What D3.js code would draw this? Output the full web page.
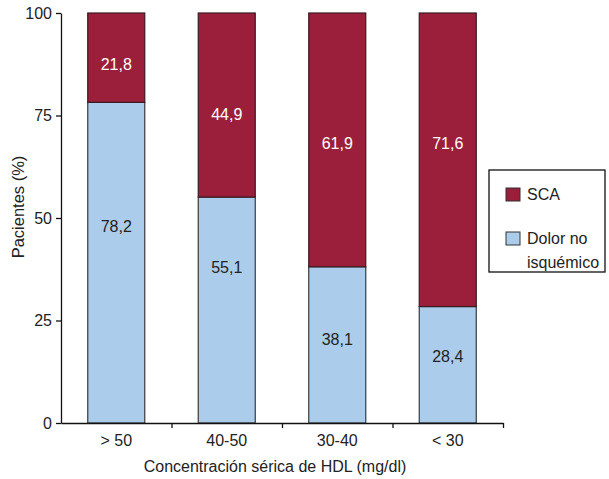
<!DOCTYPE html>
<html>
<head>
<meta charset="utf-8">
<script src="https://cdn.jsdelivr.net/npm/d3@7/dist/d3.min.js"></script>
<style>
  html, body { margin: 0; padding: 0; background: #fff; }
  svg { display: block; font-family: "Liberation Sans", Arial, sans-serif; }
</style>
</head>
<body>
<svg id="chart" width="609" height="479"></svg>
<script>
// HDL ranges and the share of patients in each outcome group (%)
const categories = ["> 50", "40-50", "30-40", "< 30"];
const dolorNoIsquemico = [78.2, 55.1, 38.1, 28.4];
const sca = [21.8, 44.9, 61.9, 71.6];
const yTicks = [0, 25, 50, 75, 100];
// Heights (in % units) at which each value label sits inside its segment
const dolorLabelAt = [48, 38, 20.5, 16.3];
const scaLabelAt = [87.6, 75.4, 68.3, 68.3];

const colors = { sca: "#9b1f3a", dolor: "#abcdeb", stroke: "#3a3a3a" };
const FS = 16;

const svg = d3.select("#chart");
const margin = { left: 61, top: 13, right: 106, bottom: 56 };
const width = 503 - margin.left;
const height = 423 - margin.top;

const g = svg.append("g").attr("transform", `translate(${margin.left},${margin.top})`);

const x = d3.scaleBand().domain(categories).range([0, width])
  .paddingInner(0.484).paddingOuter(0.242);
const y = d3.scaleLinear().domain([0, 100]).range([height, 0]);

// Stacked segments: blue at the bottom, red on top
const rows = categories.map((c, i) => ({ cat: c, dolor: dolorNoIsquemico[i], sca: sca[i] }));

g.selectAll("rect.dolor").data(rows).join("rect")
  .attr("class", "dolor")
  .attr("x", d => x(d.cat))
  .attr("width", x.bandwidth())
  .attr("y", d => y(d.dolor))
  .attr("height", d => y(0) - y(d.dolor))
  .attr("fill", colors.dolor)
  .attr("stroke", colors.stroke)
  .attr("stroke-width", 1.2);

g.selectAll("rect.sca").data(rows).join("rect")
  .attr("class", "sca")
  .attr("x", d => x(d.cat))
  .attr("width", x.bandwidth())
  .attr("y", d => y(d.dolor + d.sca))
  .attr("height", d => y(d.dolor) - y(d.dolor + d.sca))
  .attr("fill", colors.sca)
  .attr("stroke", "#3b1a22")
  .attr("stroke-width", 1.2);

const fmt = v => d3.format(".1f")(v).replace(".", ",");

g.selectAll("text.lblDolor").data(rows).join("text")
  .attr("class", "lblDolor")
  .attr("x", d => x(d.cat) + x.bandwidth() / 2)
  .attr("y", (d, i) => y(dolorLabelAt[i]))
  .attr("dy", "0.36em")
  .attr("text-anchor", "middle")
  .attr("font-size", FS)
  .attr("fill", "#222")
  .text(d => fmt(d.dolor));

g.selectAll("text.lblSca").data(rows).join("text")
  .attr("class", "lblSca")
  .attr("x", d => x(d.cat) + x.bandwidth() / 2)
  .attr("y", (d, i) => y(scaLabelAt[i]))
  .attr("dy", "0.36em")
  .attr("text-anchor", "middle")
  .attr("font-size", FS)
  .attr("fill", "#fff")
  .text(d => fmt(d.sca));

// Y axis
const yAxis = g.append("g")
  .call(d3.axisLeft(y).tickValues(yTicks).tickSize(5).tickSizeOuter(0).tickPadding(4));
yAxis.selectAll("text").attr("font-size", FS).attr("fill", "#222").attr("font-family", "Liberation Sans, Arial, sans-serif");
yAxis.selectAll("line, path").attr("stroke", "#111").attr("stroke-width", 1.3);

// X axis: ticks mark the boundaries between ranges
const xb = d3.scaleLinear().domain([0, categories.length]).range([0, width]);
const xAxis = g.append("g").attr("transform", `translate(0,${height})`)
  .call(d3.axisBottom(xb).tickValues(d3.range(1, categories.length + 1)).tickSize(5).tickSizeOuter(0).tickFormat(""));
xAxis.selectAll("line, path").attr("stroke", "#111").attr("stroke-width", 1.3);

g.selectAll("text.cat").data(categories).join("text")
  .attr("class", "cat")
  .attr("x", d => x(d) + x.bandwidth() / 2)
  .attr("y", height + 17)
  .attr("dy", "0.36em")
  .attr("text-anchor", "middle")
  .attr("font-size", FS)
  .attr("fill", "#222")
  .text(d => d);

// Axis titles
svg.append("text")
  .attr("x", 275)
  .attr("y", 466)
  .attr("dy", "0.36em")
  .attr("text-anchor", "middle")
  .attr("font-size", FS)
  .attr("fill", "#222")
  .text("Concentración sérica de HDL (mg/dl)");

svg.append("text")
  .attr("transform", "translate(18,207) rotate(-90)")
  .attr("dy", "0.36em")
  .attr("text-anchor", "middle")
  .attr("font-size", 16.5)
  .attr("fill", "#222")
  .text("Pacientes (%)");

// Legend
const legend = svg.append("g").attr("transform", "translate(489,170)");
legend.append("rect")
  .attr("width", 116).attr("height", 102)
  .attr("fill", "#fff").attr("stroke", "#111").attr("stroke-width", 1.3);
const legendItems = [
  { label: ["SCA"], color: colors.sca, y: 18 },
  { label: ["Dolor no", "isquémico"], color: colors.dolor, y: 62 }
];
legendItems.forEach(item => {
  legend.append("rect")
    .attr("x", 17).attr("y", item.y)
    .attr("width", 14).attr("height", 13)
    .attr("fill", item.color).attr("stroke", "#333").attr("stroke-width", 1);
  item.label.forEach((t, k) => {
    legend.append("text")
      .attr("x", 38).attr("y", item.y + 6.5 + k * 24)
      .attr("dy", "0.36em")
      .attr("font-size", FS)
      .attr("fill", "#222")
      .text(t);
  });
});
</script>
</body>
</html>
